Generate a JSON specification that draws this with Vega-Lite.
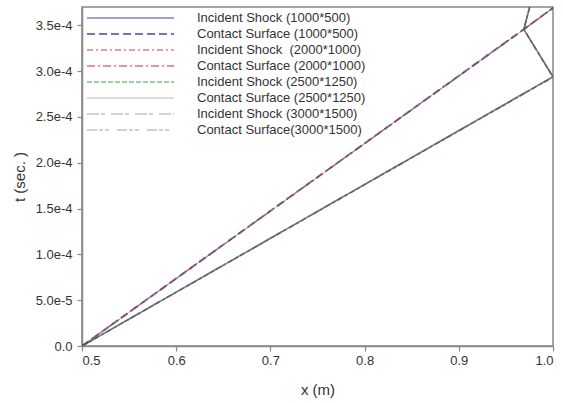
{
  "$schema": "https://vega.github.io/schema/vega-lite/v6.json",
  "width": 471,
  "height": 339,
  "autosize": "none",
  "padding": {"left": 82, "top": 7, "right": 10, "bottom": 57},
  "background": "white",
  "config": {
    "font": "Liberation Sans",
    "view": {"stroke": "#888888", "strokeWidth": 1.5},
    "axis": {
      "domainColor": "#888888",
      "domainWidth": 1.5,
      "tickColor": "#888888",
      "tickWidth": 1.2,
      "tickSize": 5,
      "labelFont": "Liberation Sans",
      "labelFontSize": 13,
      "labelColor": "#333333",
      "titleFont": "Liberation Sans",
      "titleFontSize": 15,
      "titleFontWeight": "normal",
      "titleColor": "#333333",
      "grid": false
    }
  },
  "data": {
    "values": [
      {"series": "Incident Shock (1000*500)", "x": 0.5, "t": 0, "o": 1},
      {"series": "Incident Shock (1000*500)", "x": 1.0, "t": 0.000294, "o": 2},
      {"series": "Incident Shock (1000*500)", "x": 0.969, "t": 0.0003457, "o": 3},
      {"series": "Incident Shock (1000*500)", "x": 0.9755, "t": 0.000371, "o": 4},
      {"series": "Contact Surface (1000*500)", "x": 0.5, "t": 0, "o": 1},
      {"series": "Contact Surface (1000*500)", "x": 0.969, "t": 0.0003457, "o": 2},
      {"series": "Contact Surface (1000*500)", "x": 1.0, "t": 0.000369, "o": 3},
      {"series": "Incident Shock\u00a0 (2000*1000)", "x": 0.5, "t": 0, "o": 1},
      {"series": "Incident Shock\u00a0 (2000*1000)", "x": 1.0, "t": 0.0002935, "o": 2},
      {"series": "Incident Shock\u00a0 (2000*1000)", "x": 0.969, "t": 0.0003455, "o": 3},
      {"series": "Incident Shock\u00a0 (2000*1000)", "x": 0.9755, "t": 0.000371, "o": 4},
      {"series": "Contact Surface (2000*1000)", "x": 0.5, "t": 0, "o": 1},
      {"series": "Contact Surface (2000*1000)", "x": 0.969, "t": 0.0003455, "o": 2},
      {"series": "Contact Surface (2000*1000)", "x": 1.0, "t": 0.000369, "o": 3},
      {"series": "Incident Shock (2500*1250)", "x": 0.5, "t": 0, "o": 1},
      {"series": "Incident Shock (2500*1250)", "x": 1.0, "t": 0.0002935, "o": 2},
      {"series": "Incident Shock (2500*1250)", "x": 0.969, "t": 0.0003455, "o": 3},
      {"series": "Incident Shock (2500*1250)", "x": 0.9755, "t": 0.000371, "o": 4},
      {"series": "Contact Surface (2500*1250)", "x": 0.5, "t": 0, "o": 1},
      {"series": "Contact Surface (2500*1250)", "x": 0.969, "t": 0.0003455, "o": 2},
      {"series": "Contact Surface (2500*1250)", "x": 1.0, "t": 0.000369, "o": 3},
      {"series": "Incident Shock (3000*1500)", "x": 0.5, "t": 0, "o": 1},
      {"series": "Incident Shock (3000*1500)", "x": 1.0, "t": 0.0002935, "o": 2},
      {"series": "Incident Shock (3000*1500)", "x": 0.969, "t": 0.0003455, "o": 3},
      {"series": "Incident Shock (3000*1500)", "x": 0.9755, "t": 0.000371, "o": 4},
      {"series": "Contact Surface(3000*1500)", "x": 0.5, "t": 0, "o": 1},
      {"series": "Contact Surface(3000*1500)", "x": 0.969, "t": 0.0003455, "o": 2},
      {"series": "Contact Surface(3000*1500)", "x": 1.0, "t": 0.000369, "o": 3}
    ]
  },
  "mark": {"type": "line", "clip": true, "opacity": 0.55},
  "encoding": {
    "x": {
      "field": "x", "type": "quantitative",
      "scale": {"domain": [0.5, 1.0], "nice": false, "zero": false},
      "axis": {"values": [0.5, 0.6, 0.7, 0.8, 0.9, 1.0], "format": ".1f", "title": "x (m)", "labelPadding": 3, "titlePadding": 15}
    },
    "y": {
      "field": "t", "type": "quantitative",
      "scale": {"domain": [0, 0.00037], "nice": false},
      "axis": {
        "values": [0, 0.00005, 0.0001, 0.00015, 0.0002, 0.00025, 0.0003, 0.00035],
        "labelExpr": "datum.value == 0 ? '0.0' : format(datum.value, '.1e')",
        "title": "t (sec. )", "labelPadding": 5, "titlePadding": 8
      }
    },
    "order": {"field": "o", "type": "quantitative"},
    "color": {
      "field": "series", "type": "nominal",
      "scale": {
        "domain": ["Incident Shock (1000*500)", "Contact Surface (1000*500)", "Incident Shock\u00a0 (2000*1000)", "Contact Surface (2000*1000)", "Incident Shock (2500*1250)", "Contact Surface (2500*1250)", "Incident Shock (3000*1500)", "Contact Surface(3000*1500)"],
        "range": ["#1c1ca8", "#00008c", "#cc1c1c", "#c00000", "#1c8c1c", "#808080", "#606060", "#5a5a5a"]
      },
      "legend": {
        "orient": "none", "legendX": 4, "legendY": 3, "title": null,
        "symbolType": "stroke", "symbolSize": 7569, "clipHeight": 16, "rowPadding": 0,
        "labelOffset": 22, "labelFontSize": 13, "labelColor": "#333333", "labelFont": "Liberation Sans",
        "padding": 0, "labelLimit": 300
      }
    },
    "strokeDash": {
      "field": "series", "type": "nominal",
      "scale": {
        "domain": ["Incident Shock (1000*500)", "Contact Surface (1000*500)", "Incident Shock\u00a0 (2000*1000)", "Contact Surface (2000*1000)", "Incident Shock (2500*1250)", "Contact Surface (2500*1250)", "Incident Shock (3000*1500)", "Contact Surface(3000*1500)"],
        "range": [[1, 0], [8, 4], [6, 3, 2, 3], [8, 3, 2, 3], [5, 2], [1, 0], [12, 2, 4, 6], [10, 2, 4, 2, 4, 8]]
      }
    },
    "strokeWidth": {
      "field": "series", "type": "nominal",
      "scale": {
        "type": "ordinal",
        "domain": ["Incident Shock (1000*500)", "Contact Surface (1000*500)", "Incident Shock\u00a0 (2000*1000)", "Contact Surface (2000*1000)", "Incident Shock (2500*1250)", "Contact Surface (2500*1250)", "Incident Shock (3000*1500)", "Contact Surface(3000*1500)"],
        "range": [1.6, 2.0, 1.5, 1.5, 1.5, 1, 1.2, 1.2]
      }
    }
  }
}
